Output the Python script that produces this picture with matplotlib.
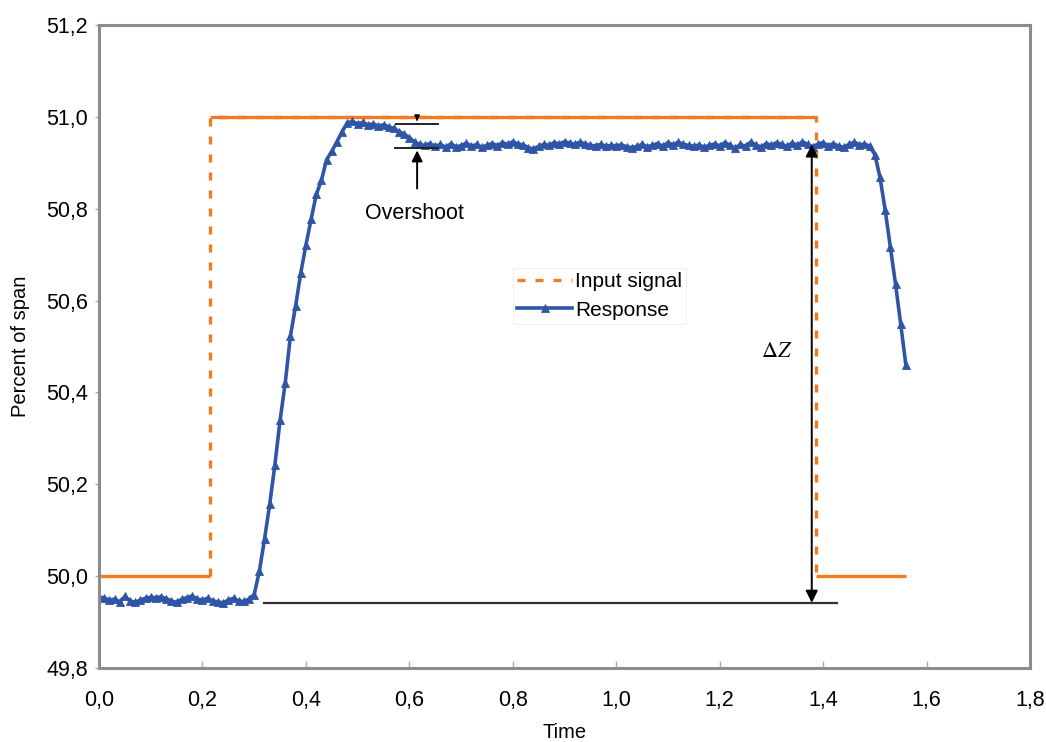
import numpy as np
import matplotlib
matplotlib.use("Agg")
import matplotlib.pyplot as plt
from matplotlib.ticker import FuncFormatter

plt.rcParams['font.family'] = ['Liberation Sans', 'DejaVu Sans']

# input step signal (time, percent of span)
input_low1_t = [0.0, 0.215]
input_high_t = [0.215, 1.383]
input_low2_t = [1.387, 1.56]
input_step_t = [0.215, 0.215, 1.387, 1.387]
input_step_v = [50.0, 51.0, 51.0, 50.0]
input_low = 50.0
input_high = 51.0

# response, sampled every 0.01 s from 0.00 to 1.56
resp_t = np.round(np.arange(0, 157) * 0.01, 2)
resp_v = [
    # 0.00 - 0.29
    49.955, 49.952, 49.948, 49.950, 49.944, 49.956, 49.946, 49.943, 49.948, 49.952,
    49.954, 49.953, 49.955, 49.951, 49.946, 49.943, 49.950, 49.953, 49.957, 49.950,
    49.948, 49.952, 49.946, 49.944, 49.942, 49.948, 49.952, 49.946, 49.945, 49.950,
    # 0.30 - 0.48
    49.960,
    50.011, 50.081, 50.157, 50.243, 50.339, 50.421, 50.523, 50.588, 50.660, 50.721,
    50.777, 50.831, 50.862, 50.907, 50.925, 50.946, 50.968, 50.987,
    # 0.49 - 0.62 overshoot
    50.990, 50.985, 50.988, 50.982, 50.985, 50.980, 50.983, 50.978, 50.975, 50.968,
    50.962, 50.955, 50.945, 50.940,
    # 0.63 - 1.49 plateau
    50.938, 50.942, 50.936, 50.940, 50.934, 50.941, 50.935, 50.937, 50.943, 50.936,
    50.940, 50.934, 50.938, 50.942, 50.937, 50.944, 50.940, 50.946, 50.941, 50.939,
    50.933, 50.930, 50.936, 50.940, 50.938, 50.944, 50.941, 50.946, 50.943, 50.940,
    50.945, 50.941, 50.938, 50.937, 50.940, 50.936, 50.938, 50.937, 50.939, 50.935,
    50.933, 50.936, 50.940, 50.935, 50.938, 50.942, 50.936, 50.944, 50.939, 50.945,
    50.940, 50.938, 50.936, 50.939, 50.934, 50.938, 50.941, 50.937, 50.944, 50.938,
    50.932, 50.940, 50.936, 50.945, 50.939, 50.934, 50.942, 50.938, 50.944, 50.940,
    50.936, 50.943, 50.938, 50.946, 50.940, 50.935, 50.941, 50.944, 50.937, 50.942,
    50.936, 50.934, 50.940, 50.945, 50.939, 50.941, 50.936,
    # 1.50 - 1.56 fall
    50.918, 50.868, 50.797, 50.716, 50.636, 50.549, 50.460,
]

# annotation levels
overshoot_top = 50.985
overshoot_bottom = 50.933
base_level = 49.942
settled_level = 50.94

orange = '#f47a20'
blue = '#2f56a6'
spine_gray = '#8b8b90'

fig = plt.figure(figsize=(10.46, 7.42), dpi=100)
ax = fig.add_axes([0.0947, 0.0997, 0.8900, 0.8666])

# input signal: dashed verticals, solid horizontals
ax.plot(input_step_t, input_step_v, color=orange, lw=2.4, ls=(0, (2.4, 3.0)),
        label='Input signal')
ax.plot(input_low1_t, [input_low] * 2, color=orange, lw=2.4, solid_capstyle='butt')
ax.plot(input_high_t, [input_high] * 2, color=orange, lw=2.4, solid_capstyle='butt')
ax.plot(input_low2_t, [input_low] * 2, color=orange, lw=2.4, solid_capstyle='butt')

ax.plot(resp_t, resp_v, color=blue, lw=2.6, marker='^', ms=5.5,
        markeredgewidth=0.6, label='Response')

# overshoot markup
ax.plot([0.575, 0.655], [overshoot_top] * 2, color='#222222', lw=1.4)
ax.plot([0.572, 0.655], [overshoot_bottom] * 2, color='#222222', lw=1.4)
ax.annotate('', xy=(0.615, overshoot_top), xytext=(0.615, 51.0),
            arrowprops=dict(arrowstyle='-|>', color='black', lw=1.0, mutation_scale=8))
ax.annotate('', xy=(0.615, overshoot_bottom), xytext=(0.615, 50.838),
            arrowprops=dict(arrowstyle='-|>', color='black', lw=1.4, mutation_scale=16))
ax.text(0.61, 50.79, 'Overshoot', fontsize=15.5, ha='center', va='center')

# delta Z markup
ax.plot([0.318, 1.426], [base_level] * 2, color='#333333', lw=1.6)
ax.annotate('', xy=(1.378, settled_level), xytext=(1.378, base_level),
            arrowprops=dict(arrowstyle='<|-|>', color='black', lw=1.4, mutation_scale=18,
                            shrinkA=0, shrinkB=0))
ax.text(1.31, 50.49, r'$\Delta Z$', fontsize=16, ha='center', va='center',
        math_fontfamily='stix')

ax.set_xlim(0, 1.8)
ax.set_ylim(49.8, 51.2)
ax.set_xticks(np.arange(0, 1.81, 0.2))
ax.set_yticks(np.arange(49.8, 51.21, 0.2))
comma = FuncFormatter(lambda v, p: f'{v:.1f}'.replace('.', ','))
ax.xaxis.set_major_formatter(comma)
ax.yaxis.set_major_formatter(comma)
ax.tick_params(axis='x', direction='in', length=5, width=1, color='#aaaaaa',
               labelsize=15.5, pad=16)
ax.tick_params(axis='y', direction='out', length=3, width=1, color='#aaaaaa',
               labelsize=15.5, pad=5)
for s in ax.spines.values():
    s.set_color(spine_gray)
    s.set_linewidth(2.2)

ax.set_xlabel('Time', fontsize=14.5)
ax.set_ylabel('Percent of span', fontsize=14.5)
ax.xaxis.set_label_coords(0.5, -0.086)
ax.yaxis.set_label_coords(-0.0737, 0.5)

leg = ax.legend(loc='upper left', bbox_to_anchor=(0.445, 0.622), fontsize=15,
                frameon=True, fancybox=False, handlelength=2.6, handletextpad=0.15,
                borderpad=0.2, labelspacing=0.45, borderaxespad=0)
leg.get_frame().set_edgecolor('#ececec')
leg.get_frame().set_linewidth(0.8)

fig.savefig('out.png', dpi=100)
